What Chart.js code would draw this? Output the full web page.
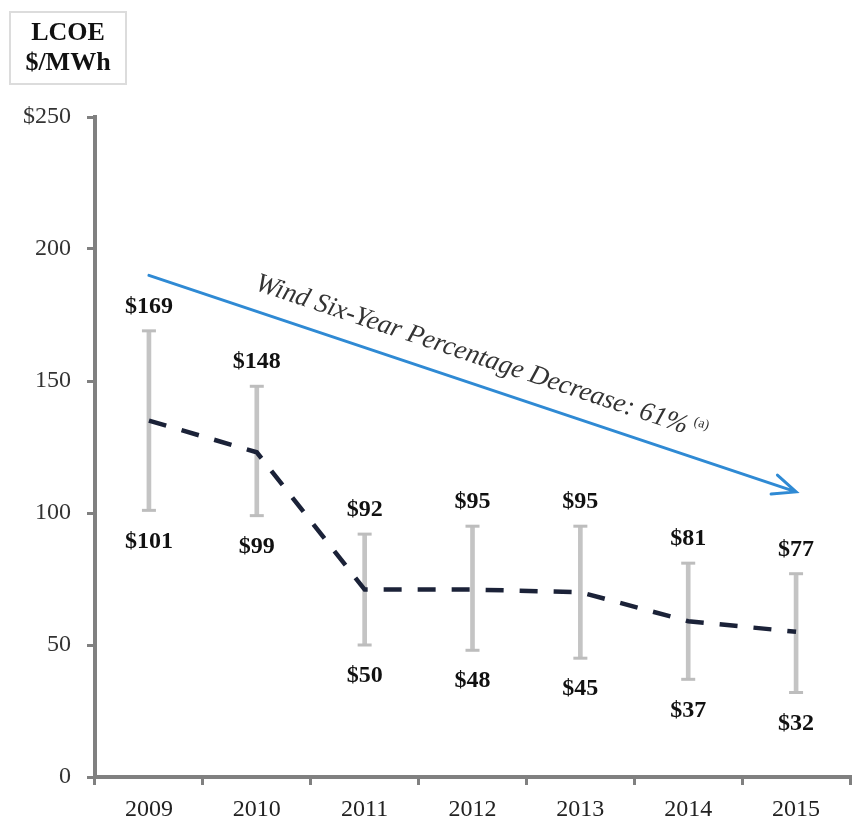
<!DOCTYPE html>
<html>
<head>
<meta charset="utf-8">
<script src="https://cdn.jsdelivr.net/npm/chart.js@4.4.1/dist/chart.umd.min.js"></script>
<style>
html, body { margin: 0; padding: 0; background: #fff; }
#wrap { position: relative; width: 852px; height: 822px; }
#unit {
  position: absolute; left: 9px; top: 11px;
  width: 114px; height: 66px; padding-top: 4px;
  border: 2px solid #dcdcdc;
  font: bold 26px "Liberation Serif", serif; line-height: 30px;
  text-align: center; color: #111;
}
</style>
</head>
<body>
<div id="wrap">
  <canvas id="chart" width="852" height="822"></canvas>
  <div id="unit">LCOE<br>$/MWh</div>
</div>
<script>
// LCOE ranges per year, $/MWh
var years = ['2009', '2010', '2011', '2012', '2013', '2014', '2015'];
var lcoeHigh = [169, 148, 92, 95, 95, 81, 77];
var lcoeLow = [101, 99, 50, 48, 45, 37, 32];
var lcoeMid = [135, 123, 71, 71, 70, 59, 55];
var yTicks = [0, 50, 100, 150, 200, 250];

// trend arrow, from 2009 to 2015
var trendFrom = 190;
var trendTo = 108;
var trendText = 'Wind Six-Year Percentage Decrease: 61%';
var trendNote = '(a)';

var serif = '"Liberation Serif", "Times New Roman", serif';
var axisGray = '#808080';

var rangeLabels = {
  id: 'rangeLabels',
  afterDatasetsDraw: function (chart) {
    var ctx = chart.ctx, x = chart.scales.x, y = chart.scales.y;
    ctx.save();
    ctx.font = 'bold 24px ' + serif;
    ctx.fillStyle = '#111';
    ctx.textAlign = 'center';
    ctx.textBaseline = 'middle';
    years.forEach(function (yr, i) {
      var px = x.getPixelForValue(i);
      ctx.fillText('$' + lcoeHigh[i], px, y.getPixelForValue(lcoeHigh[i]) - 24);
      ctx.fillText('$' + lcoeLow[i], px, y.getPixelForValue(lcoeLow[i]) + 31);
    });

    // arrow
    var x0 = x.getPixelForValue(0), y0 = y.getPixelForValue(trendFrom);
    var x1 = x.getPixelForValue(years.length - 1), y1 = y.getPixelForValue(trendTo);
    var ang = Math.atan2(y1 - y0, x1 - x0);
    var len = Math.sqrt((x1 - x0) * (x1 - x0) + (y1 - y0) * (y1 - y0));
    ctx.translate(x0, y0);
    ctx.rotate(ang);
    ctx.strokeStyle = '#2f8ad4';
    ctx.lineWidth = 3;
    ctx.lineCap = 'round';
    ctx.beginPath();
    ctx.moveTo(0, 0);
    ctx.lineTo(len, 0);
    ctx.moveTo(len - 23, -10);
    ctx.lineTo(len, 0);
    ctx.lineTo(len - 23, 10);
    ctx.stroke();

    ctx.font = 'italic 27px ' + serif;
    ctx.fillStyle = '#333';
    ctx.textAlign = 'left';
    ctx.textBaseline = 'alphabetic';
    ctx.fillText(trendText, 104, -20);
    var w = ctx.measureText(trendText).width;
    ctx.font = '14px ' + serif;
    ctx.fillText(trendNote, 104 + w + 5, -31);
    ctx.restore();
  }
};

new Chart(document.getElementById('chart'), {
  type: 'line',
  data: {
    labels: years,
    datasets: [
      {
        data: lcoeMid,
        borderColor: '#1b2238',
        borderWidth: 4.5,
        borderDash: [18, 16],
        pointRadius: 0,
        tension: 0,
        fill: false,
        order: 0
      },
      {
        data: lcoeHigh,
        showLine: false,
        pointStyle: 'line',
        pointRadius: 7,
        pointBorderWidth: 3,
        pointBorderColor: '#bdbdbd',
        borderColor: '#bdbdbd',
        order: 1
      },
      {
        data: lcoeLow,
        showLine: false,
        pointStyle: 'line',
        pointRadius: 7,
        pointBorderWidth: 3,
        pointBorderColor: '#bdbdbd',
        borderColor: '#bdbdbd',
        order: 1
      },
      {
        type: 'bar',
        data: years.map(function (yr, i) { return [lcoeLow[i], lcoeHigh[i]]; }),
        backgroundColor: '#c4c4c4',
        barThickness: 4,
        order: 2
      }
    ]
  },
  options: {
    responsive: false,
    animation: false,
    devicePixelRatio: 1,
    layout: { autoPadding: false, padding: { top: 117, right: 2, left: 0, bottom: 0 } },
    plugins: { legend: { display: false }, tooltip: { enabled: false } },
    events: [],
    scales: {
      x: {
        offset: true,
        grid: {
          offset: true, drawOnChartArea: false, drawTicks: true, tickLength: 8,
          color: axisGray, tickColor: axisGray, tickWidth: 3, lineWidth: 3
        },
        border: { display: true, color: axisGray, width: 4 },
        ticks: { font: { family: serif, size: 24 }, color: '#222', padding: 10 },
        afterFit: function (s) {
          s.height = 45;
          s.paddingLeft = 0;
          s.paddingRight = 0;
        }
      },
      y: {
        min: 0,
        max: 250,
        afterBuildTicks: function (s) {
          s.ticks = yTicks.map(function (v) { return { value: v }; });
        },
        grid: {
          drawOnChartArea: false, drawTicks: true, tickLength: 8,
          color: axisGray, tickColor: axisGray, tickWidth: 3, lineWidth: 3
        },
        border: { display: true, color: axisGray, width: 4 },
        ticks: {
          font: { family: serif, size: 24 }, color: '#333', padding: 16,
          callback: function (v) { return v === 250 ? '$250' : String(v); }
        },
        afterFit: function (s) { s.width = 95; }
      }
    }
  },
  plugins: [rangeLabels]
});
</script>
</body>
</html>
